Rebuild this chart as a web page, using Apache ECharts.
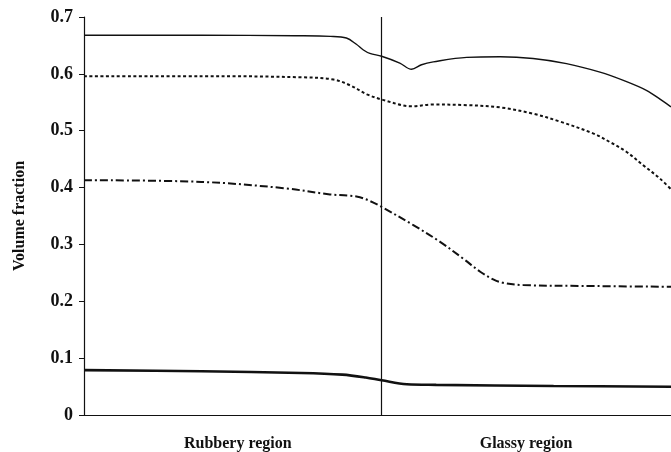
<!DOCTYPE html>
<html>
<head>
<meta charset="utf-8">
<script src="https://cdn.jsdelivr.net/npm/echarts@6/dist/echarts.min.js"></script>
<style>
  html, body { margin: 0; padding: 0; background: #fff; }
  #chart { width: 671px; height: 452px; }
</style>
</head>
<body>
<div id="chart"></div>
<script>
// Normalised temperature position (0 = left edge, 100 = right edge) vs volume fraction
const yTicks = [0, 0.1, 0.2, 0.3, 0.4, 0.5, 0.6, 0.7];
const regionLabels = ['Rubbery region', 'Glassy region'];
const regionCentres = [26.2, 75.3];
const transitionX = 50.7;

const curveA = [
  [0, 0.668], [20, 0.668], [36, 0.667], [42, 0.666], [44.7, 0.663], [46.4, 0.652],
  [47.6, 0.642], [48.7, 0.636], [50.7, 0.631], [53.8, 0.619], [55.8, 0.608],
  [57.5, 0.616], [59.5, 0.621], [65.2, 0.629], [70.9, 0.630], [76.5, 0.627],
  [82.2, 0.618], [87.9, 0.603], [92, 0.588], [95.8, 0.571], [98.5, 0.553], [100, 0.542]
];
const curveB = [
  [0, 0.596], [20, 0.596], [37, 0.594], [42.5, 0.590], [45.3, 0.580], [48.2, 0.564],
  [50.7, 0.555], [55.8, 0.543], [59.5, 0.546], [65.2, 0.545], [70.9, 0.541],
  [76.5, 0.530], [81.1, 0.516], [86.8, 0.495], [89.6, 0.480], [92.4, 0.463],
  [95.3, 0.439], [98.1, 0.416], [100, 0.397]
];
const curveC = [
  [0, 0.413], [20, 0.410], [34, 0.399], [41.9, 0.388], [45, 0.386], [47, 0.383],
  [48.8, 0.376], [50.7, 0.366], [56.1, 0.334], [60.6, 0.305], [64.6, 0.275],
  [67.5, 0.252], [69.8, 0.238], [71.4, 0.2325], [74.8, 0.2285], [85, 0.227], [100, 0.2255]
];
const curveD = [
  [0, 0.079], [20, 0.077], [37, 0.074], [44, 0.071], [48, 0.066], [50.7, 0.061],
  [55, 0.054], [60, 0.053], [80, 0.051], [100, 0.0497]
];

const serif = '"Liberation Serif", "DejaVu Serif", serif';
const chart = echarts.init(document.getElementById('chart'), null, { renderer: 'canvas' });

function curve(data, width, type) {
  return {
    type: 'line',
    data: data,
    smooth: 0.35,
    symbol: 'none',
    silent: true,
    lineStyle: { color: '#111', width: width, type: type }
  };
}

chart.setOption({
  animation: false,
  backgroundColor: '#fff',
  grid: { left: 84, right: 0, top: 17, bottom: 37, containLabel: false, outerBoundsMode: 'none' },
  xAxis: {
    type: 'value',
    min: 0,
    max: 100,
    axisLine: { show: true, lineStyle: { color: '#111', width: 1.2 } },
    axisTick: { show: false },
    splitLine: { show: false },
    axisLabel: {
      customValues: regionCentres,
      formatter: function (v) {
        const i = regionCentres.indexOf(v);
        return i >= 0 ? regionLabels[i] : '';
      },
      margin: 21,
      fontFamily: serif,
      fontWeight: 'bold',
      fontSize: 16,
      color: '#111'
    }
  },
  yAxis: {
    type: 'value',
    min: 0,
    max: 0.7,
    interval: 0.1,
    name: 'Volume fraction',
    nameLocation: 'middle',
    nameGap: 56,
    nameTextStyle: { fontFamily: serif, fontWeight: 'bold', fontSize: 16, color: '#111' },
    axisLine: { show: true, lineStyle: { color: '#111', width: 1.2 } },
    axisTick: { show: true, inside: false, length: 5, lineStyle: { color: '#111' } },
    splitLine: { show: false },
    axisLabel: {
      margin: 11,
      fontFamily: serif,
      fontWeight: 'bold',
      fontSize: 18,
      color: '#111',
      formatter: function (v) {
        const t = yTicks.find(function (x) { return Math.abs(x - v) < 1e-9; });
        return t === 0 ? '0' : t.toFixed(1);
      }
    }
  },
  series: [
    Object.assign(curve(curveA, 1.4, 'solid'), {
      markLine: {
        silent: true,
        symbol: 'none',
        label: { show: false },
        lineStyle: { color: '#111', width: 1.2, type: 'solid' },
        data: [{ xAxis: transitionX }]
      }
    }),
    curve(curveB, 2, [3, 2.5]),
    curve(curveC, 2, [8, 3, 2, 3]),
    curve(curveD, 2.6, 'solid')
  ]
});
</script>
</body>
</html>
